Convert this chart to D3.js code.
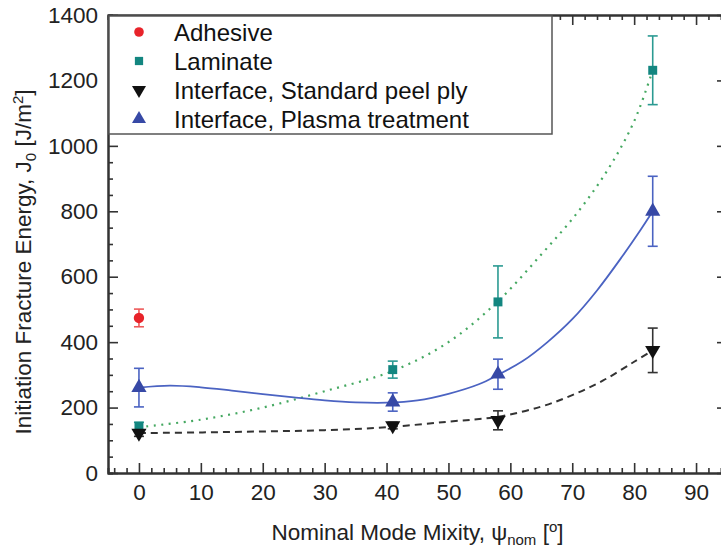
<!DOCTYPE html>
<html>
<head>
<meta charset="utf-8">
<script src="https://cdn.jsdelivr.net/npm/d3@7"></script>
<style>
  body { margin: 0; background: #fff; }
  svg { font-family: "Liberation Sans", Arial, sans-serif; }
  .axis path, .axis line { stroke: #333; }
  .axis path { stroke-width: 2; }
  .axis line { stroke-width: 1.6; }
  .axis text { font-size: 22.5px; fill: #222; }
</style>
</head>
<body>
<svg id="chart" width="721" height="553"></svg>
<script>
const adhesiveX = [0]
const adhesiveY = [474]
const adhesiveErr = [27]

const mixity = [0, 41, 58, 83]
const laminateY = [143, 316, 523, 1231]
const laminateErr = [12, 26, 110, 105]
const peelY = [122, 145, 161, 375]
const peelErr = [10, 10, 29, 68]
const plasmaY = [261, 217, 302, 800]
const plasmaErr = [59, 28, 46, 107]

// fitted trend lines
const laminateFitX = [0, 10, 20, 30, 41, 50, 58, 65, 71, 76, 80, 83]
const laminateFitY = [140, 163, 200, 250, 312, 400, 525, 668, 800, 935, 1075, 1231]
const peelFitX = [0, 10, 20, 30, 40, 50, 58, 65, 70, 75, 80, 83]
const peelFitY = [122, 124, 127, 131, 140, 157, 172, 203, 238, 283, 340, 375]
const plasmaFitX = [0, 5, 10, 15, 20, 25, 30, 35, 40, 45, 50, 55, 58, 62, 66, 70, 74, 78, 81, 83]
const plasmaFitY = [261, 267, 262, 252, 241, 231, 222, 216, 215, 222, 242, 272, 300, 342, 400, 470, 558, 660, 742, 800]

const xTicks = [0, 10, 20, 30, 40, 50, 60, 70, 80, 90]
const yTicks = [0, 200, 400, 600, 800, 1000, 1200, 1400]
const legendLabels = ["Adhesive", "Laminate", "Interface, Standard peel ply", "Interface, Plasma treatment"]

const margin = {top: 15, left: 108},
    width = 619,
    height = 458

const svg = d3.select("#chart")
const g = svg.append("g").attr("transform", "translate(" + margin.left + "," + margin.top + ")")

const fx = d3.scaleLinear().domain([-5, 95]).range([0, width])
const fy = d3.scaleLinear().domain([0, 1400]).range([height, 0])

const xMinor = d3.range(-4, 95, 2).filter(v => v % 10 !== 0)
const yMinor = d3.range(50, 1400, 50).filter(v => v % 200 !== 0)

// minor ticks on all four sides
g.append("g").attr("class", "axis").attr("transform", "translate(0," + height + ")")
    .call(d3.axisBottom(fx).tickValues(xMinor).tickSize(-5).tickFormat(""))
g.append("g").attr("class", "axis")
    .call(d3.axisTop(fx).tickValues(xMinor).tickSize(-5).tickFormat(""))
g.append("g").attr("class", "axis")
    .call(d3.axisLeft(fy).tickValues(yMinor).tickSize(-5).tickFormat(""))
g.append("g").attr("class", "axis").attr("transform", "translate(" + width + ",0)")
    .call(d3.axisRight(fy).tickValues(yMinor).tickSize(-5).tickFormat(""))

// major ticks
g.append("g").attr("class", "axis").attr("transform", "translate(0," + height + ")")
    .call(d3.axisBottom(fx).tickValues(xTicks).tickSize(-10).tickPadding(11).tickSizeOuter(0))
g.append("g").attr("class", "axis")
    .call(d3.axisTop(fx).tickValues(xTicks).tickSize(-10).tickFormat("").tickSizeOuter(0))
g.append("g").attr("class", "axis")
    .call(d3.axisLeft(fy).tickValues(yTicks).tickSize(-10).tickPadding(10)
        .tickFormat(d3.format("d")).tickSizeOuter(0))
g.append("g").attr("class", "axis").attr("transform", "translate(" + width + ",0)")
    .call(d3.axisRight(fy).tickValues(yTicks).tickSize(-10).tickFormat("").tickSizeOuter(0))

const line = d3.line().x(d => fx(d[0])).y(d => fy(d[1])).curve(d3.curveCatmullRom.alpha(0.5))

g.append("path").datum(d3.zip(laminateFitX, laminateFitY))
    .attr("d", line).attr("fill", "none").attr("stroke", "#45a861")
    .attr("stroke-width", 2.2).attr("stroke-dasharray", "2,5.5")
g.append("path").datum(d3.zip(peelFitX, peelFitY))
    .attr("d", line).attr("fill", "none").attr("stroke", "#333")
    .attr("stroke-width", 2).attr("stroke-dasharray", "7,5")
g.append("path").datum(d3.zip(plasmaFitX, plasmaFitY))
    .attr("d", line).attr("fill", "none").attr("stroke", "#4b63c2")
    .attr("stroke-width", 1.8)

const series = [
    {x: adhesiveX, y: adhesiveY, e: adhesiveErr, color: "#e8232a", bar: "#ee5a5a", sym: d3.symbolCircle, size: 85, rot: 0},
    {x: mixity, y: laminateY, e: laminateErr, color: "#138680", bar: "#2b9a92", sym: d3.symbolSquare, size: 80, rot: 0},
    {x: mixity, y: peelY, e: peelErr, color: "#111", bar: "#333", sym: d3.symbolTriangle, size: 100, rot: 180},
    {x: mixity, y: plasmaY, e: plasmaErr, color: "#3749a6", bar: "#4b63c2", sym: d3.symbolTriangle, size: 100, rot: 0}
]

series.forEach(s => {
    const pts = s.x.map((x, i) => ({x: x, y: s.y[i], e: s.e[i]}))
    const eb = g.append("g").attr("stroke", s.bar).attr("stroke-width", 1.6)
    pts.forEach(p => {
        const cx = fx(p.x), y1 = fy(p.y + p.e), y2 = fy(p.y - p.e)
        eb.append("line").attr("x1", cx).attr("x2", cx).attr("y1", y1).attr("y2", y2)
        eb.append("line").attr("x1", cx - 5).attr("x2", cx + 5).attr("y1", y1).attr("y2", y1)
        eb.append("line").attr("x1", cx - 5).attr("x2", cx + 5).attr("y1", y2).attr("y2", y2)
    })
})
series.forEach(s => {
    g.append("g").selectAll("path")
        .data(s.x.map((x, i) => [x, s.y[i]]))
        .join("path")
        .attr("d", d3.symbol().type(s.sym).size(s.size))
        .attr("fill", s.color)
        .attr("transform", d => "translate(" + fx(d[0]) + "," + fy(d[1]) + ") rotate(" + s.rot + ")")
})

// legend
const lg = g.append("g").attr("transform", "translate(1,1)")
lg.append("rect").attr("width", 443).attr("height", 118)
    .attr("fill", "#fff").attr("stroke", "#555").attr("stroke-width", 1.5)
legendLabels.forEach((label, i) => {
    const s = series[i]
    const cy = 16 + i * 29
    lg.append("path")
        .attr("d", d3.symbol().type(s.sym).size(s.size * 0.85))
        .attr("fill", s.color)
        .attr("transform", "translate(30," + cy + ") rotate(" + s.rot + ")")
    lg.append("text").attr("x", 65).attr("y", cy + 8.5)
        .attr("font-size", 24).attr("fill", "#111").text(label)
})

// axis titles
const xt = svg.append("text").attr("x", margin.left + width / 2).attr("y", 540)
    .attr("text-anchor", "middle").attr("font-size", 22.5).attr("fill", "#222")
xt.append("tspan").text("Nominal Mode Mixity, ψ")
xt.append("tspan").attr("dy", 5).attr("font-size", 15).text("nom")
xt.append("tspan").attr("dy", -5).text(" [")
xt.append("tspan").attr("dy", -8).attr("font-size", 15).text("o")
xt.append("tspan").attr("dy", 8).text("]")

const yt = svg.append("text").attr("transform", "translate(31,262) rotate(-90)")
    .attr("text-anchor", "middle").attr("font-size", 22.5).attr("fill", "#222")
yt.append("tspan").text("Initiation Fracture Energy, J")
yt.append("tspan").attr("dy", 5).attr("font-size", 15).text("0")
yt.append("tspan").attr("dy", -5).text(" [J/m")
yt.append("tspan").attr("dy", -8).attr("font-size", 15).text("2")
yt.append("tspan").attr("dy", 8).text("]")
</script>
</body>
</html>
